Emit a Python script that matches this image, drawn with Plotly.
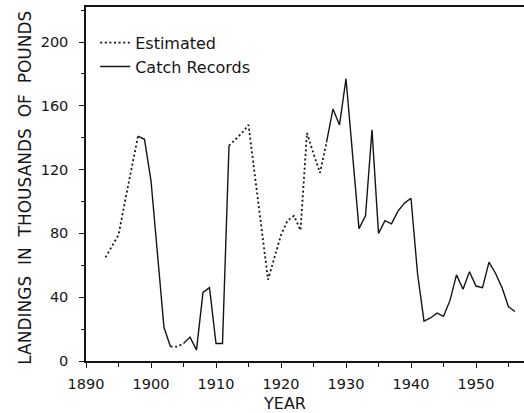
import plotly.graph_objects as go

# Annual landings, thousands of pounds
years = list(range(1893, 1957))
landings = [
    65, 72, 79, 100, 120, 141, 139, 113, 65, 21,      # 1893-1902
    9, 9, 11, 15, 7, 43, 46, 11, 11, 135,            # 1903-1912
    139, 143, 148, 116, 83, 51, 65, 79, 88, 91,      # 1913-1922
    82, 143, 130, 118, 137, 158, 148, 177, 130, 83,  # 1923-1932
    91, 145, 80, 88, 86, 94, 99, 102, 55, 25,        # 1933-1942
    27, 30, 28, 38, 54, 45, 56, 47, 46, 62,          # 1943-1952
    55, 46, 34, 31,                                  # 1953-1956
]

# Year spans covered by each source (end points shared where they join)
estimated_spans = [(1893, 1898), (1903, 1905), (1912, 1927)]
record_spans = [(1898, 1903), (1905, 1912), (1927, 1956)]

x_ticks = [1890, 1900, 1910, 1920, 1930, 1940, 1950]
y_ticks = [0, 40, 80, 120, 160, 200]

FONT = "DejaVu Sans"
INK = "#151515"
WIDE = " \u00a0"  # wider word gap for the axis title


def spans_to_xy(spans):
    xs, ys = [], []
    for start, end in spans:
        for yr, val in zip(years, landings):
            if start <= yr <= end:
                xs.append(yr)
                ys.append(val)
        xs.append(None)
        ys.append(None)
    return xs, ys


est_x, est_y = spans_to_xy(estimated_spans)
rec_x, rec_y = spans_to_xy(record_spans)

fig = go.Figure()
fig.add_trace(go.Scatter(
    x=est_x, y=est_y, mode="lines", name="Estimated",
    line=dict(color=INK, width=1.8, dash="2px,2.6px"),
    connectgaps=False,
))
fig.add_trace(go.Scatter(
    x=rec_x, y=rec_y, mode="lines", name="Catch Records",
    line=dict(color=INK, width=1.4),
    connectgaps=False,
))

px_per_year = 6.5
plot_w = 524 - 86
plot_h = 413 - 7 - 52
px_per_unit = 1.595

fig.update_layout(
    width=524, height=413,
    margin=dict(l=86, r=0, t=7, b=52),
    paper_bgcolor="white", plot_bgcolor="white",
    font=dict(family=FONT, color=INK, size=15),
    showlegend=True,
    legend=dict(
        x=0.021, y=0.947, xanchor="left", yanchor="top",
        bgcolor="rgba(0,0,0,0)", borderwidth=0,
        font=dict(family=FONT, size=16, color=INK),
    ),
    xaxis=dict(
        range=[1890, 1890 + plot_w / px_per_year],
        tickvals=x_ticks, ticktext=[str(v) for v in x_ticks],
        ticks="outside", ticklen=5, tickwidth=1.3, tickcolor=INK,
        minor=dict(dtick=5, tick0=1890, ticks="outside", ticklen=4,
                   tickwidth=1.3, tickcolor=INK),
        showline=True, linecolor=INK, linewidth=1.5, mirror=True,
        showgrid=False, zeroline=False,
        tickfont=dict(family=FONT, size=14.5, color=INK),
        ticklabelstandoff=4,
    ),
    yaxis=dict(
        range=[0, plot_h / px_per_unit],
        tickvals=y_ticks, ticktext=[str(v) for v in y_ticks],
        ticks="outside", ticklen=5, tickwidth=1.3, tickcolor=INK,
        minor=dict(dtick=20, tick0=0, ticks="outside", ticklen=3,
                   tickwidth=1.3, tickcolor=INK),
        showline=True, linecolor=INK, linewidth=1.5,
        showgrid=False, zeroline=False,
        tickfont=dict(family=FONT, size=14.5, color=INK),
        ticklabelstandoff=8,
    ),
    annotations=[
        dict(text=WIDE.join(["LANDINGS", "IN", "THOUSANDS", "OF", "POUNDS"]),
             textangle=-90,
             xref="paper", yref="paper", x=(25.5 - 86) / plot_w,
             y=(360.7 - 188) / plot_h, xanchor="center", yanchor="middle",
             showarrow=False, font=dict(family=FONT, size=17, color=INK)),
        dict(text="YEAR", xref="paper", yref="paper",
             x=(284.7 - 86) / plot_w, y=(360.7 - 403) / plot_h,
             xanchor="center", yanchor="middle", showarrow=False,
             font=dict(family=FONT, size=16, color=INK)),
    ],
)

fig.write_html("out.html")
